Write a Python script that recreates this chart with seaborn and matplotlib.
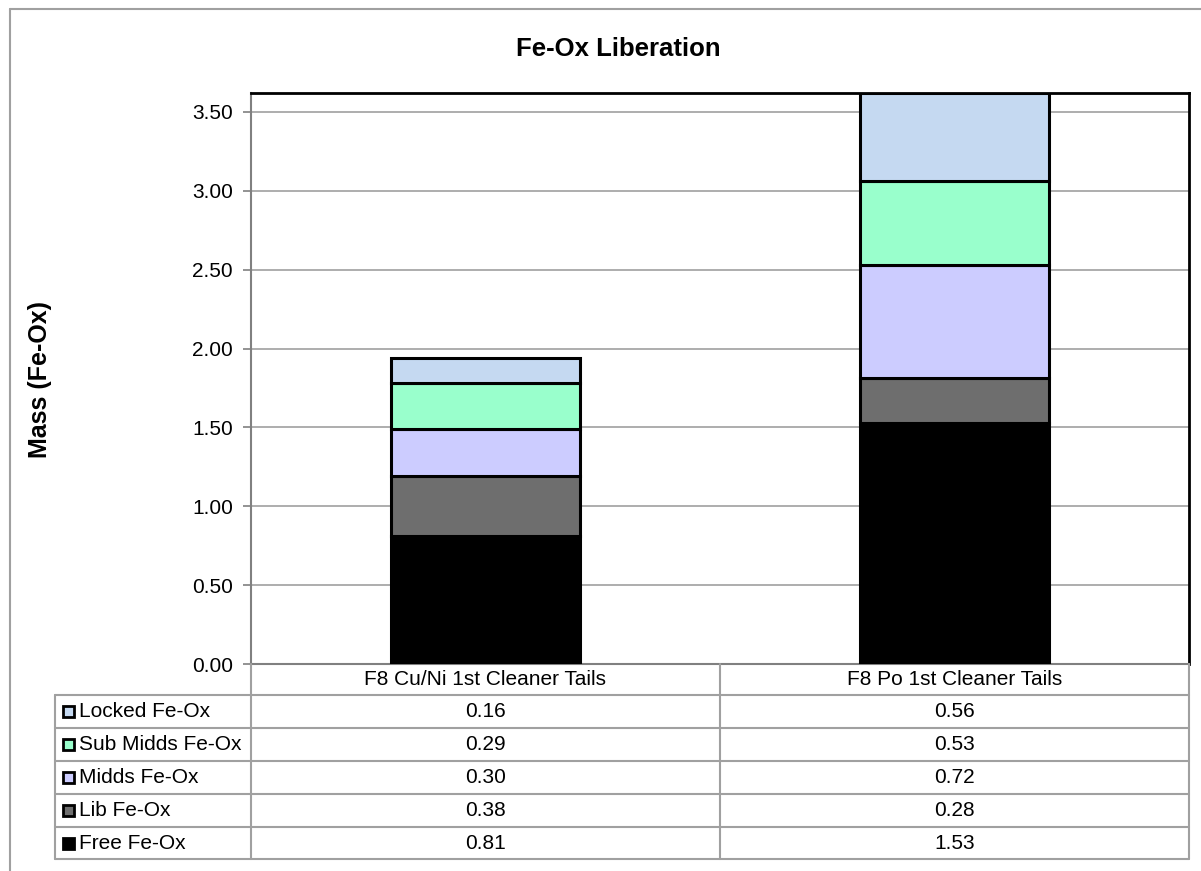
import numpy as np
import matplotlib.pyplot as plt
import seaborn as sns
from matplotlib.lines import Line2D
from matplotlib.patches import Rectangle

samples = ['F8 Cu/Ni 1st Cleaner Tails', 'F8 Po 1st Cleaner Tails']
series = ['Free Fe-Ox', 'Lib Fe-Ox', 'Midds Fe-Ox', 'Sub Midds Fe-Ox', 'Locked Fe-Ox']
free_feox = [0.81, 1.53]
lib_feox = [0.38, 0.28]
midds_feox = [0.30, 0.72]
submidds_feox = [0.29, 0.53]
locked_feox = [0.16, 0.56]
colours = ['#000000', '#6E6E6E', '#CCCCFF', '#99FFCC', '#C5D9F1']

W, H = 1201, 871
GRID = '#A0A0A0'

def fx(x):
    return x / W

def fy(y):
    return 1 - y / H

sns.set_style('white')
plt.rcParams['font.family'] = ['Liberation Sans', 'DejaVu Sans']
plt.rcParams['text.color'] = 'black'
plt.rcParams['ytick.color'] = 'black'

fig = plt.figure(figsize=(W / 100, H / 100), dpi=100)
ax = fig.add_axes([fx(251), fy(664), fx(1189) - fx(251), fy(93) - fy(664)])

values = [free_feox, lib_feox, midds_feox, submidds_feox, locked_feox]
bottom = np.zeros(len(samples))
for vals, col in zip(values, colours):
    sns.barplot(x=samples, y=vals, bottom=bottom.copy(), color=col, saturation=1,
                width=0.405, edgecolor='black', linewidth=2.2, ax=ax, zorder=3)
    bottom = bottom + np.array(vals)

ax.set_xlim(-0.5, 1.5)
ax.set_ylim(0, 3.62)
ax.set_yticks(np.arange(0, 3.51, 0.5))
ax.set_yticklabels([f'{t:.2f}' for t in np.arange(0, 3.51, 0.5)])
ax.set_xticklabels([])
ax.set_xlabel('')
ax.yaxis.grid(True, color=GRID, lw=1.2)
ax.set_axisbelow(True)
ax.tick_params(axis='y', length=6, color='#808080', width=1.2, labelsize=15,
               labelcolor='black', pad=7, left=True)
ax.tick_params(axis='x', bottom=False)
for side in ['left', 'bottom']:
    ax.spines[side].set_color('#808080')
    ax.spines[side].set_linewidth(1.5)
for side in ['top', 'right']:
    ax.spines[side].set_color('black')
    ax.spines[side].set_linewidth(2)

# titles
fig.text(fx(618), fy(49), 'Fe-Ox Liberation', ha='center', va='center', fontsize=18.5,
         weight='bold', color='black')
fig.text(fx(40), fy(380), 'Mass (Fe-Ox)', ha='center', va='center', fontsize=18,
         weight='bold', rotation=90, color='black')

# data table under the chart
def line(x0, y0, x1, y1, color=GRID, lw=1.5):
    fig.add_artist(Line2D([fx(x0), fx(x1)], [fy(y0), fy(y1)], color=color, lw=lw))

row_edges = [695, 728, 761, 794, 827, 859]
col_edges = [251, 720, 1189]
for x in col_edges:
    line(x, 664, x, 859)
line(55, 695, 55, 859)
for y in row_edges:
    line(55, y, 1189, y)

col_centres = [(col_edges[i] + col_edges[i + 1]) / 2 for i in range(2)]
for cx, name in zip(col_centres, samples):
    fig.text(fx(cx), fy(679.5), name, ha='center', va='center', fontsize=15, color='black')

rows = list(zip(series, values, colours))[::-1]
for i, (name, vals, col) in enumerate(rows):
    cy = (row_edges[i] + row_edges[i + 1]) / 2
    fig.add_artist(Rectangle((fx(63), fy(cy + 5.5)), fx(11), 11 / H, facecolor=col,
                             edgecolor='black', lw=2))
    fig.text(fx(79), fy(cy), name, ha='left', va='center', fontsize=15, color='black')
    for cx, v in zip(col_centres, vals):
        fig.text(fx(cx), fy(cy), f'{v:.2f}', ha='center', va='center', fontsize=15, color='black')

# chart area border
line(10, 9, W, 9)
line(10, 9, 10, H)

fig.savefig('out.png', dpi=100, facecolor='white')
